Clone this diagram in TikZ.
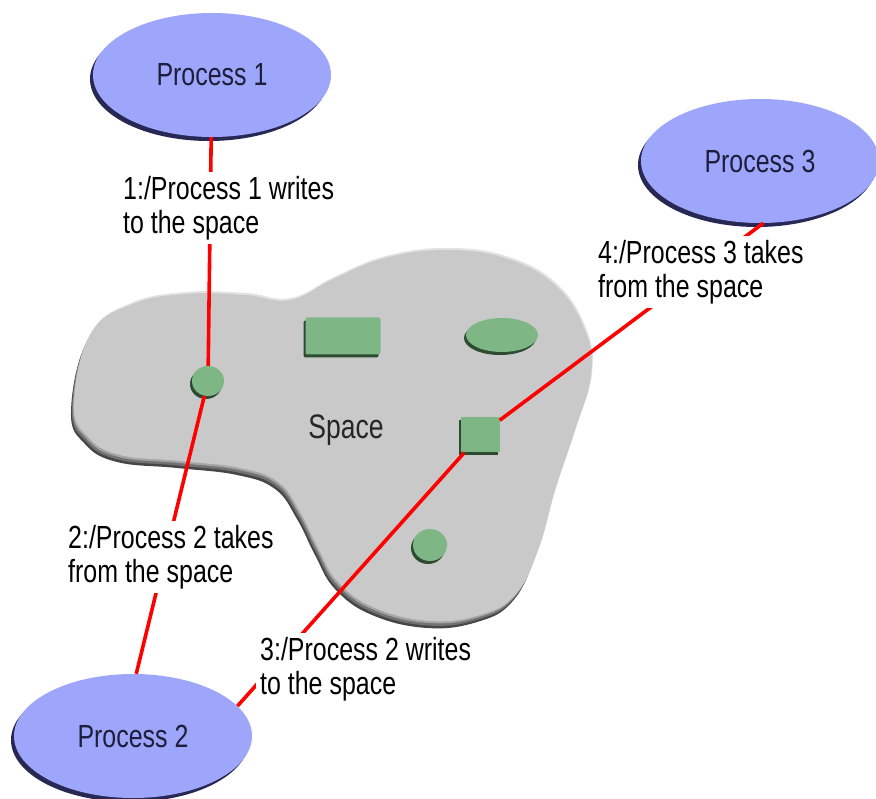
\documentclass[tikz,border=0pt]{standalone}
\usepackage{fontspec}
\setmainfont{Liberation Sans}[FakeStretch=0.78]
\usetikzlibrary{shapes.geometric,shadows}
\definecolor{procfill}{RGB}{158,166,252}
\definecolor{procdark}{RGB}{40,40,85}
\definecolor{proctext}{RGB}{30,30,60}
\definecolor{greenfill}{RGB}{126,182,134}
\definecolor{greendark}{RGB}{45,75,48}
\definecolor{spacefill}{RGB}{201,201,201}
\definecolor{spacedark}{RGB}{70,70,70}
\definecolor{spacemid}{RGB}{115,115,115}
\definecolor{spacesoft}{RGB}{165,165,165}
\definecolor{spacelight}{RGB}{226,226,226}
\def\blobshape{plot[smooth cycle,tension=0.7] coordinates {(74,405) (90,335) (130,305) (185,294) (245,295) (290,300) (335,278) (385,258) (445,250) (505,258) (555,285) (585,330) (591,375) (575,430) (555,490) (538,550) (515,595) (480,615) (430,621) (375,608) (338,582) (318,548) (300,512) (278,482) (240,468) (180,461) (120,455) (88,437)}}
\begin{document}
\begin{tikzpicture}[x=1pt,y=-1pt,
  proc/.style={ellipse, fill=procfill, minimum width=238pt, minimum height=124pt, inner sep=0pt, text=proctext, font=\fontsize{32}{34}\selectfont, drop shadow={shadow xshift=-3pt, shadow yshift=-4pt, fill=procdark, opacity=1}},
  tuple/.style={fill=greenfill, inner sep=0pt, drop shadow={shadow xshift=-2pt, shadow yshift=-3pt, fill=greendark, opacity=1}},
  link/.style={draw=red, line width=3.6pt},
  lbl/.style={fill=white, align=left, inner sep=4pt, font=\fontsize{32}{34}\selectfont, anchor=west}]
\useasboundingbox (0,0) rectangle (876,799);
% the space
\fill[spacedark,shift={(-3,7)}] \blobshape;
\fill[spacemid,shift={(-2,4.5)}] \blobshape;
\fill[spacesoft,shift={(-1,2)}] \blobshape;
\fill[spacelight,shift={(1,-2)}] \blobshape;
\fill[spacefill] \blobshape;
\node[font=\fontsize{34}{36}\selectfont, text=black!85] (space) at (346,430) {Space};
% entries in the space
\node[tuple, ellipse, minimum width=32pt, minimum height=30pt] (c1) at (208,381) {};
\node[tuple, rectangle, rounded corners=2pt, minimum width=75pt, minimum height=37pt] (r1) at (343,336) {};
\node[tuple, ellipse, minimum width=72pt, minimum height=34pt] (e1) at (502,335) {};
\node[tuple, rectangle, minimum width=39pt, minimum height=35pt] (sq) at (480,435) {};
\node[tuple, ellipse, minimum width=34pt, minimum height=32pt] (c2) at (430,545) {};
% processes
\node[proc] (p1) at (212,75) {Process 1};
\node[proc] (p3) at (760,161) {Process 3};
\node[proc] (p2) at (133,736) {Process 2};
% connectors
\draw[link] (p1) -- (c1);
\draw[link] (c1) -- (p2.87);
\draw[link] (sq) -- (p2.16);
\draw[link] (sq) -- (p3.273);
% labels
\node[lbl] (l1) at (119,208) {1:/Process 1 writes\\to the space};
\node[lbl] (l2) at (64,557) {2:/Process 2 takes\\from the space};
\node[lbl] (l3) at (256,669) {3:/Process 2 writes\\to the space};
\node[lbl] (l4) at (594,272) {4:/Process 3 takes\\from the space};
\end{tikzpicture}
\end{document}
